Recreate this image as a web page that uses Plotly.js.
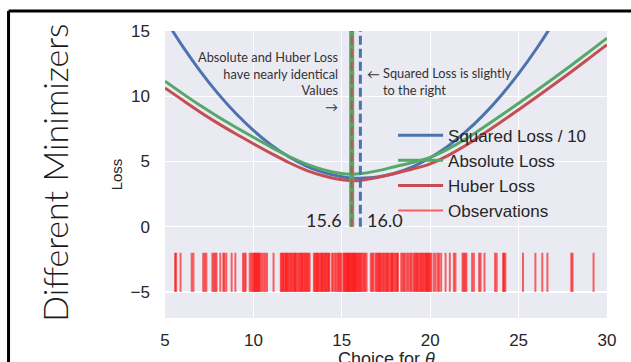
<!DOCTYPE html>
<html>
<head>
<meta charset="utf-8">
<script src="https://cdn.plot.ly/plotly-3.0.1.min.js"></script>
<style>
  html, body { margin: 0; padding: 0; background: #ffffff; }
  #chart { width: 631px; height: 362px; }
</style>
</head>
<body>
<div id="chart"></div>
<script>
// ---- data ----
const theta = [5, 6, 7, 8, 9, 10, 11, 12, 13, 14, 15, 15.5, 16, 17, 18, 19, 20, 21, 22, 23, 24, 25, 26, 27, 28, 29, 30];
const squaredLoss10 = [15.93, 13.82, 11.91, 10.20, 8.69, 7.38, 6.27, 5.36, 4.65, 4.14, 3.83, 3.74, 3.72, 3.81, 4.10, 4.59, 5.28, 6.17, 7.26, 8.55, 10.04, 11.73, 13.62, 15.71, 18.0, 20.5, 23.2];
const absoluteLoss = [11.15, 10.20, 9.28, 8.42, 7.62, 6.85, 6.10, 5.40, 4.80, 4.35, 4.08, 4.02, 4.05, 4.28, 4.60, 4.92, 5.32, 5.95, 6.72, 7.60, 8.52, 9.46, 10.42, 11.40, 12.40, 13.42, 14.45];
const huberLoss = [10.64, 9.70, 8.78, 7.92, 7.12, 6.36, 5.62, 4.92, 4.32, 3.88, 3.59, 3.52, 3.54, 3.76, 4.08, 4.42, 4.82, 5.45, 6.22, 7.10, 8.02, 8.96, 9.92, 10.90, 11.90, 12.92, 13.95];
const observations = [
  5.57, 5.63, 5.88, 6.51, 6.61, 7.16, 7.25, 7.34, 7.68, 7.76, 7.85, 7.91, 8.13, 8.30, 8.36, 8.47, 8.77, 8.98,
  9.41, 9.50, 9.56, 9.79, 9.88, 9.96, 10.02, 10.08, 10.12, 10.18, 10.22, 10.28, 10.33, 10.38, 10.48, 10.58, 10.67, 10.77,
  11.14, 11.55, 11.60, 11.67, 11.72, 11.80, 11.85, 11.90, 11.97, 12.03, 12.10, 12.16, 12.22, 12.30, 12.35, 12.40,
  12.48, 12.55, 12.62, 12.68, 12.75, 12.80, 12.88, 12.93, 13.00, 13.05, 13.12, 13.18,
  13.42, 13.48, 13.55, 13.60, 13.66, 13.72, 13.80, 13.85, 13.90, 13.96, 14.02, 14.08, 14.13, 14.20, 14.25, 14.30,
  14.45, 14.52, 14.62, 14.70, 14.78, 14.85, 14.92, 14.98,
  15.10, 15.14, 15.20, 15.26, 15.30, 15.35, 15.41, 15.45, 15.50, 15.56, 15.60, 15.66, 15.70, 15.74, 15.81, 15.85,
  15.92, 15.98, 16.04, 16.10, 16.17, 16.25, 16.32, 16.40,
  16.64, 16.72, 16.78, 16.90, 16.97, 17.03, 17.10, 17.15, 17.22, 17.30, 17.36, 17.42, 17.50, 17.57, 17.62, 17.70,
  17.78, 17.84, 17.90, 17.98, 18.05, 18.12, 18.18,
  18.36, 18.44, 18.52, 18.60, 18.70, 18.78, 18.88, 18.94,
  19.05, 19.12, 19.18, 19.25, 19.30, 19.38, 19.45, 19.50, 19.57, 19.62, 19.70, 19.76, 19.82, 19.88, 19.93, 20.00, 20.06,
  20.20, 20.30, 20.42, 20.50, 20.62, 20.87, 21.11, 21.34, 21.43, 21.83, 21.90, 21.98, 22.05,
  22.37, 22.47, 22.77, 22.85, 23.07, 23.67, 23.76, 24.12, 24.18, 24.25, 25.25, 25.95, 26.34, 26.63, 27.98, 28.05, 29.24
];
const minimizers = [15.56, 16.05];          // absolute/huber, squared
const minimizerLabels = ["15.6", "16.0"];
const seriesNames = ["Squared Loss / 10", "Absolute Loss", "Huber Loss", "Observations"];
const xTicks = [5, 10, 15, 20, 25, 30];
const yTicks = [-5, 0, 5, 10, 15];

// ---- styles ----
const BLUE = "#4c72b0", GREEN = "#55a868", RED = "#c44e52";
const RUG = "rgba(255,0,0,0.6)";

const rugX = [], rugY = [];
observations.forEach(v => { rugX.push(v, v, null); rugY.push(-2, -5, null); });

const traces = [
  { x: theta, y: squaredLoss10, name: seriesNames[0], mode: "lines", line: { color: BLUE, width: 3, shape: "spline" } },
  { x: theta, y: absoluteLoss, name: seriesNames[1], mode: "lines", line: { color: GREEN, width: 3, shape: "spline" } },
  { x: theta, y: huberLoss, name: seriesNames[2], mode: "lines", line: { color: RED, width: 3, shape: "spline" } },
  { x: rugX, y: rugY, name: seriesNames[3], mode: "lines", line: { color: RUG, width: 2 }, connectgaps: false },
  { x: [minimizers[0], minimizers[0]], y: [0, 15], mode: "lines", showlegend: false, line: { color: GREEN, width: 5 } },
  { x: [minimizers[0], minimizers[0]], y: [0, 15], mode: "lines", showlegend: false, line: { color: RED, width: 2, dash: "9px,4px" } },
  { x: [minimizers[1], minimizers[1]], y: [0, 15], mode: "lines", showlegend: false, line: { color: BLUE, width: 3, dash: "9px,4px" } }
];

const annFont = { family: "Lato, 'Open Sans', sans-serif", size: 12.8, color: "#333333" };
const layout = {
  width: 631, height: 362,
  margin: { l: 165, r: 24, t: 31, b: 44, pad: 0 },
  paper_bgcolor: "#ffffff",
  plot_bgcolor: "#eaeaf2",
  font: { family: "'Liberation Sans', Arial, sans-serif", color: "#262626" },
  showlegend: true,
  legend: {
    x: 0.516, y: 0.698, xanchor: "left", yanchor: "top",
    bgcolor: "rgba(0,0,0,0)", borderwidth: 0,
    font: { size: 17, color: "#262626" },
    itemwidth: 45
  },
  xaxis: {
    range: [5, 30], tickvals: xTicks, showgrid: true, gridcolor: "#ffffff", gridwidth: 1.3,
    zeroline: false, showline: false, ticks: "", tickfont: { size: 17 }, ticklabelstandoff: 10
  },
  yaxis: {
    range: [-7, 15], tickvals: yTicks, showgrid: true, gridcolor: "#ffffff", gridwidth: 1.3,
    zeroline: false, showline: false, ticks: "", tickfont: { size: 17 }, ticklabelstandoff: 14,
    title: { text: "Loss", font: { size: 15 }, standoff: 4 }
  },
  annotations: [
    { xref: "paper", yref: "paper", x: 0.5, y: -0.142, xanchor: "center", yanchor: "middle",
      showarrow: false, font: { size: 18, color: "#262626" }, text: "Choice for <i>θ</i>" },
    { xref: "x", yref: "y", x: 14.95, y: 11.07, xanchor: "right", yanchor: "middle", align: "right",
      showarrow: false, font: annFont,
      text: "Absolute and Huber Loss<br>have nearly identical<br>Values<br>→" },
    { xref: "x", yref: "y", x: 16.3, y: 11.68, xanchor: "left", yanchor: "middle",
      showarrow: false, font: annFont, text: "←" },
    { xref: "x", yref: "y", x: 17.2, y: 11.1, xanchor: "left", yanchor: "middle", align: "left",
      showarrow: false, font: annFont, text: "Squared Loss is slightly<br>to the right" },
    { xref: "x", yref: "y", x: 15.1, y: 0.5, xanchor: "right", yanchor: "middle",
      showarrow: false, font: { family: "Lato, 'Open Sans', sans-serif", size: 18, color: "#262626" }, text: minimizerLabels[0] },
    { xref: "x", yref: "y", x: 16.3, y: 0.5, xanchor: "left", yanchor: "middle",
      showarrow: false, font: { family: "Lato, 'Open Sans', sans-serif", size: 18, color: "#262626" }, text: minimizerLabels[1] },
    { xref: "paper", yref: "paper", x: -0.252, y: 0.505, xanchor: "center", yanchor: "middle",
      textangle: -90, showarrow: false,
      font: { family: "Lato, 'Open Sans', sans-serif", size: 34, color: "#1a1a1a", weight: 300 },
      text: "Different Minimizers" }
  ],
  shapes: [
    { type: "line", xref: "paper", yref: "paper", x0: -0.354, x1: -0.354, y0: 1.07, y1: -0.4, line: { color: "#000000", width: 3 } },
    { type: "line", xref: "paper", yref: "paper", x0: -0.354, x1: 1.2, y0: 1.07, y1: 1.07, line: { color: "#000000", width: 3 } }
  ]
};

Plotly.newPlot("chart", traces, layout, { displayModeBar: false, staticPlot: true });
</script>
</body>
</html>
